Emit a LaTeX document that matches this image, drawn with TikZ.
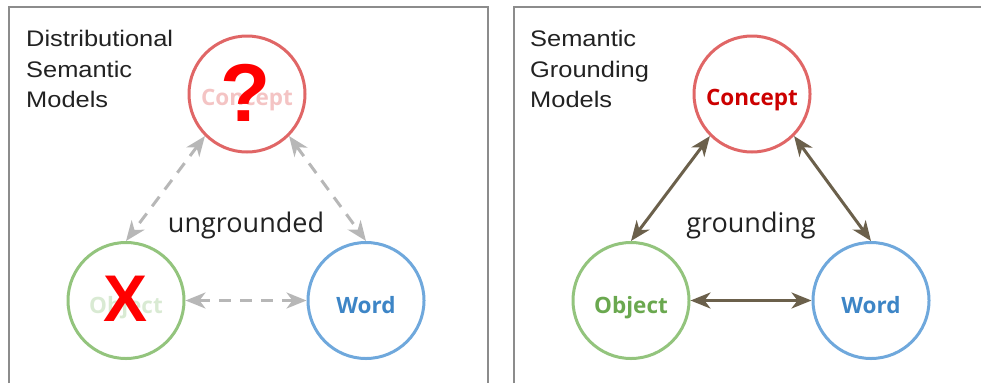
\documentclass[tikz,border=0pt]{standalone}
\usepackage{fontspec}
\setmainfont{Open Sans}
\newfontfamily\titlefont{Liberation Sans}[FakeStretch=1.13]
\newfontfamily\markfont{Liberation Sans}
\usetikzlibrary{arrows.meta}

\definecolor{panelgray}{HTML}{8C8C8C}
\definecolor{titleink}{HTML}{222222}
\definecolor{conceptring}{HTML}{E06666}
\definecolor{conceptink}{HTML}{CC0000}
\definecolor{conceptfade}{HTML}{F4C4C4}
\definecolor{objectring}{HTML}{93C47D}
\definecolor{objectink}{HTML}{6AA84F}
\definecolor{objectfade}{HTML}{D9EAD3}
\definecolor{wordring}{HTML}{6FA8DC}
\definecolor{wordink}{HTML}{3D85C6}
\definecolor{linkbrown}{HTML}{6B604B}
\definecolor{linkgray}{HTML}{B7B7B7}
\definecolor{markred}{HTML}{FF0000}

\begin{document}
\begin{tikzpicture}[x=1pt,y=-1pt,
  panel/.style={draw=panelgray,line width=2pt},
  ring/.style={circle,minimum size=116pt,inner sep=0pt,line width=3pt},
  ringlabel/.style={anchor=base,inner sep=0pt,font=\fontsize{22.5}{22.5}\selectfont\bfseries},
  title/.style={anchor=north west,align=left,inner sep=0pt,text=titleink,
    font=\titlefont\fontsize{22.5}{30.5}\selectfont},
  caption/.style={anchor=base,inner sep=0pt,text=titleink,font=\fontsize{27}{27}\selectfont},
  ghostlink/.style={draw=linkgray,line width=3pt,dash pattern=on 12pt off 9pt,
    {Stealth[length=20pt,width=16pt,inset=6pt]}-{Stealth[length=20pt,width=16pt,inset=6pt]}},
  link/.style={draw=linkbrown,line width=3pt,
    {Stealth[length=20pt,width=16pt,inset=6pt]}-{Stealth[length=20pt,width=16pt,inset=6pt]}},
  bigmark/.style={inner sep=0pt,text=markred,font=\markfont\bfseries}
]
\useasboundingbox (0,0) rectangle (981,383);

% panel frames (open at the bottom)
\draw[panel] (9,383) -- (9,7) -- (488,7) -- (488,383);
\draw[panel] (514,383) -- (514,7) -- (981,7);

% ---------------- left panel: distributional models ----------------
\node[title] (ltitle) at (26,30) {Distributional\\Semantic\\Models};

\node[ring,draw=conceptring] (lc) at (247,94) {};
\node[ring,draw=objectring]  (lo) at (126,300.5) {};
\node[ring,draw=wordring]    (lw) at (366,300.5) {};

\node[ringlabel,text=conceptfade] (lct) at ([yshift=-11pt]lc.center) {Concept};
\node[ringlabel,text=objectfade]  (lot) at ([yshift=-12.5pt]lo.center) {Object};
\node[ringlabel,text=wordink]     (lwt) at ([yshift=-12.5pt]lw.center) {Word};

\node[bigmark,font=\markfont\bfseries\fontsize{82}{82}\selectfont] (qm) at (246,92.5) {?};
\node[bigmark,font=\markfont\bfseries\fontsize{66}{66}\selectfont] (xm) at (126,298.5) {X};

\draw[ghostlink] (lc.south west) -- (lo.north);
\draw[ghostlink] (lc.south east) -- (lw.north);
\draw[ghostlink] (lo.east) -- (lw.west);

\node[caption] (lcap) at (246,232) {ungrounded};

% ---------------- right panel: grounding models ----------------
\node[title] (rtitle) at (530,30) {Semantic\\Grounding\\Models};

\node[ring,draw=conceptring] (rc) at (752,94) {};
\node[ring,draw=objectring]  (ro) at (631,300.5) {};
\node[ring,draw=wordring]    (rw) at (871,300.5) {};

\node[ringlabel,text=conceptink] (rct) at ([yshift=-11pt]rc.center) {Concept};
\node[ringlabel,text=objectink]  (rot) at ([yshift=-12.5pt]ro.center) {Object};
\node[ringlabel,text=wordink]    (rwt) at ([yshift=-12.5pt]rw.center) {Word};

\draw[link] (rc.south west) -- (ro.north);
\draw[link] (rc.south east) -- (rw.north);
\draw[link] (ro.east) -- (rw.west);

\node[caption] (rcap) at (751,232) {grounding};
\end{tikzpicture}
\end{document}
